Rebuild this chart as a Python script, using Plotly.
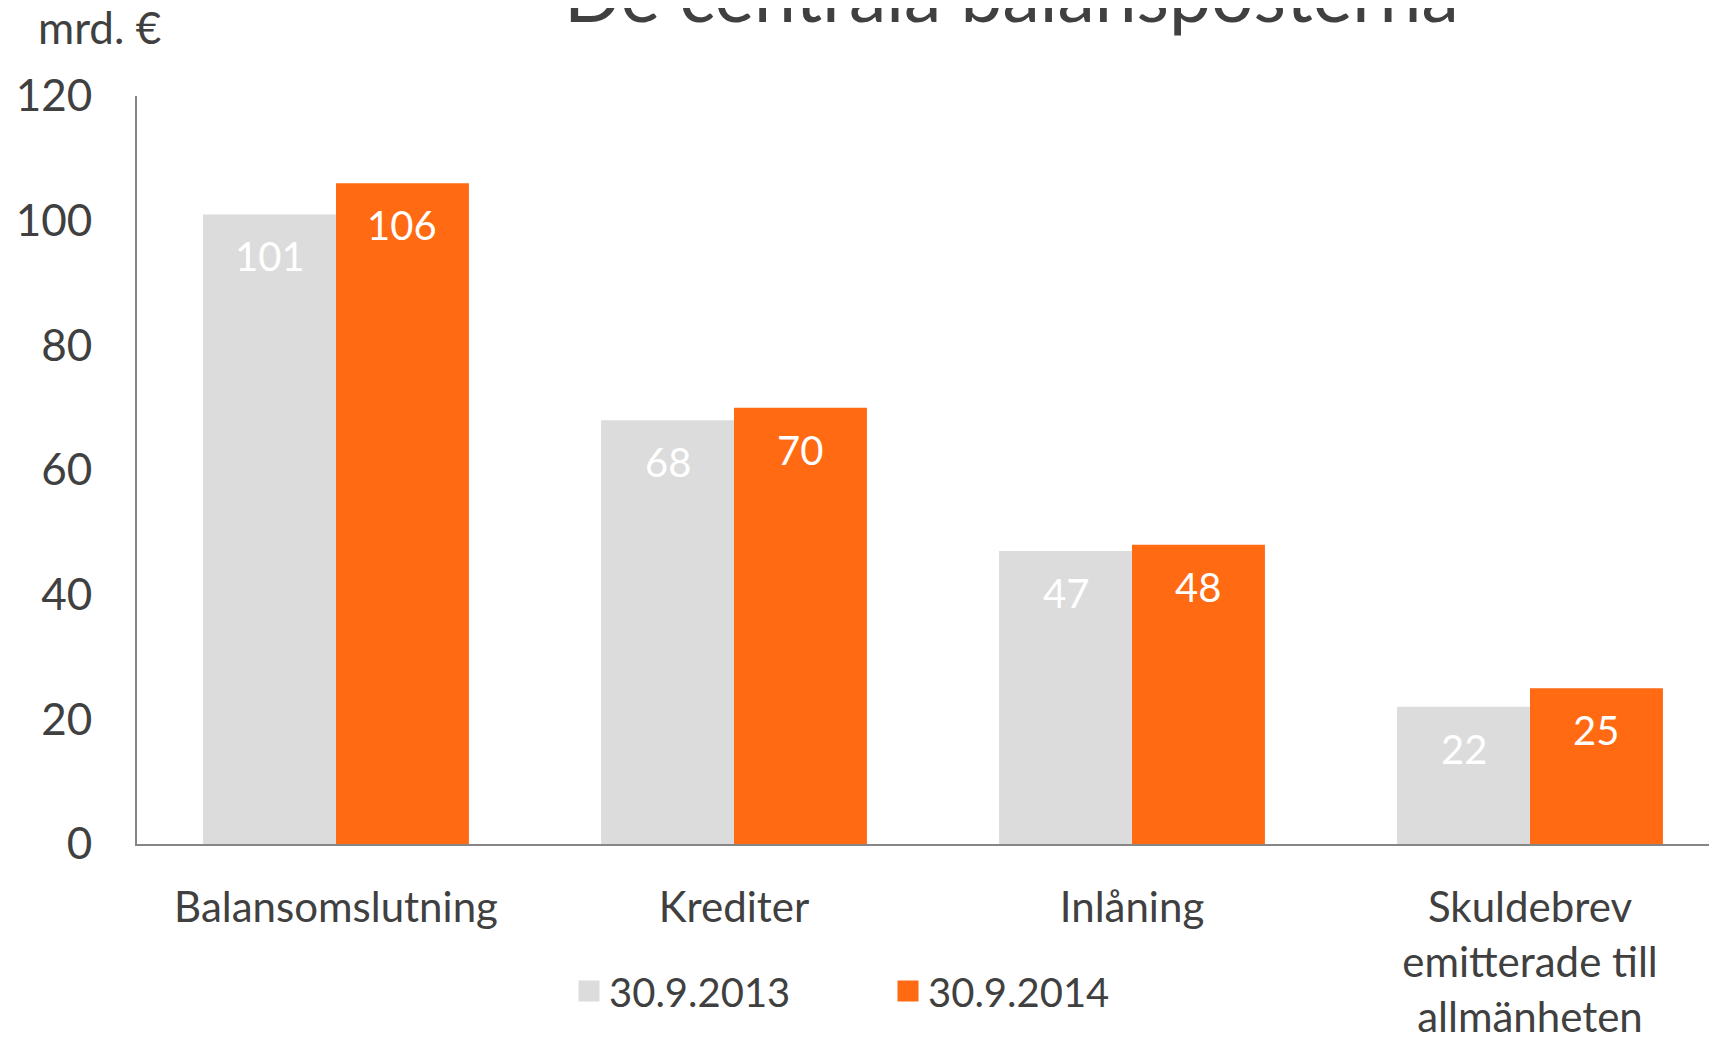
import plotly.graph_objects as go

categories = ["Balansomslutning", "Krediter", "Inlåning", "Skuldebrev<br>emitterade till<br>allmänheten"]
series_names = ["30.9.2013", "30.9.2014"]
values_2013 = [101, 68, 47, 22]
values_2014 = [106, 70, 48, 25]
colors = ["#DCDCDC", "#FF6A13"]
y_ticks = [0, 20, 40, 60, 80, 100, 120]

# page body has an 8px margin, so the figure is drawn 8px right/down
W, H = 1709, 1029
L, T = 129, 88
BASE = 836
B = H - BASE
PW = W - L
PH = BASE - T
BARGAP = 0.332
SPACING = 398.0
FONT = "Lato"
TXT = "#404040"

fig = go.Figure()
annotations = []
series = [values_2013, values_2014]
bar_off = (1 - BARGAP) / 4 * SPACING
for i, (name, vals, col) in enumerate(zip(series_names, series, colors)):
    fig.add_trace(go.Bar(
        x=categories, y=vals, name=name, marker=dict(color=col, line=dict(width=0)),
        showlegend=False, legendgroup=name, hoverinfo="x+y+name",
    ))
    fig.add_trace(go.Scatter(
        x=[None], y=[None], mode="markers", name=name, legendgroup=name,
        marker=dict(symbol="square", size=16, color=col, line=dict(color=col, width=5)),
    ))
    for c, v in zip(categories, vals):
        annotations.append(dict(
            x=c, y=v, xref="x", yref="y", text=str(v), showarrow=False,
            xshift=(-1 if i == 0 else 1) * bar_off, yshift=-42,
            xanchor="center", yanchor="middle",
            font=dict(family=FONT, size=40, color="white"),
        ))

x_max = -0.5 + PW / SPACING

annotations += [
    dict(text="De centrala balansposterna", xref="paper", yref="paper",
         x=(1004 - L) / PW, y=(BASE - 32) / PH, xanchor="center", yanchor="bottom",
         showarrow=False, font=dict(size=75, color=TXT, family=FONT)),
    dict(text="mrd. €", xref="paper", yref="paper",
         x=(28 - L) / PW, y=(BASE - 19) / PH, xanchor="left", yanchor="middle",
         showarrow=False, font=dict(size=44, color=TXT, family=FONT)),
]

fig.update_layout(
    width=W, height=H, autosize=False,
    margin=dict(l=L, r=0, t=T, b=B, pad=0, autoexpand=False),
    plot_bgcolor="white", paper_bgcolor="white",
    barmode="group", bargap=BARGAP, bargroupgap=0,
    font=dict(family=FONT, size=44, color=TXT),
    xaxis=dict(range=[-0.5, x_max], showgrid=False, showline=True, linecolor="#868686",
               linewidth=2, ticks="", ticklabelstandoff=26, tickfont=dict(size=42),
               tickangle=0, automargin=False, zeroline=False, fixedrange=True),
    yaxis=dict(range=[0, 120], tickvals=y_ticks, showgrid=False, showline=True,
               linecolor="#868686", linewidth=2, ticks="", ticklabelstandoff=34,
               tickfont=dict(size=44), automargin=False, zeroline=False),
    legend=dict(orientation="h", xref="paper", x=(880 - L) / PW, xanchor="center",
                y=(BASE - 983) / PH, yanchor="middle", font=dict(size=40, color=TXT),
                entrywidth=274, itemsizing="trace", bgcolor="rgba(0,0,0,0)"),
    annotations=annotations,
)

fig.write_html("out.html")
